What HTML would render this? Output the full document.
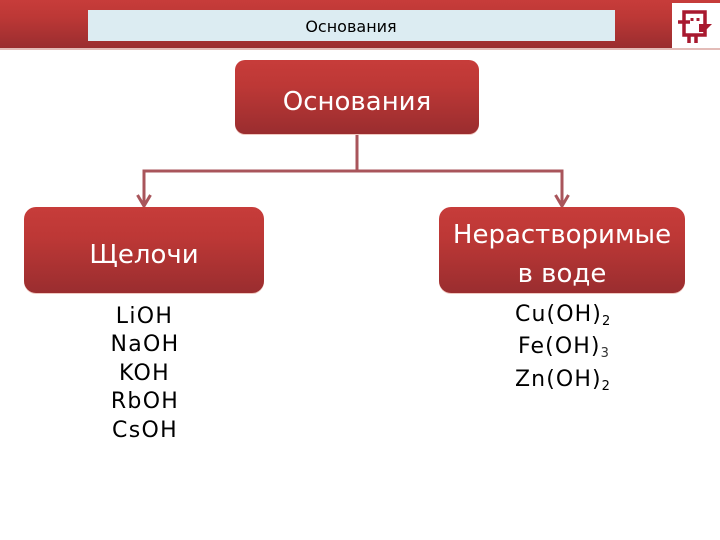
<!DOCTYPE html>
<html><head><meta charset="utf-8"><style>
html,body{margin:0;padding:0;background:#fff}
svg{display:block}
text{font-family:"DejaVu Sans","Liberation Sans",sans-serif}
</style></head><body>
<svg width="720" height="540" viewBox="0 0 720 540" xmlns="http://www.w3.org/2000/svg">
<defs>
<linearGradient id="g" x1="0" y1="0" x2="0" y2="1"><stop offset="0" stop-color="#c73c3a"/><stop offset=".35" stop-color="#bd3836"/><stop offset="1" stop-color="#9a2d2f"/></linearGradient>
</defs>
<rect width="720" height="540" fill="#fff"/>
<rect x="0" y="0" width="720" height="48" fill="url(#g)"/>
<rect x="0" y="48" width="720" height="2" fill="#e3bcb8"/>
<rect x="88" y="10" width="527" height="31" fill="#dcecf2"/>
<text x="351" y="32" font-size="16" text-anchor="middle" fill="#000">Основания</text>
<rect x="672" y="3" width="48" height="45" fill="#fff"/>
<g fill="none" stroke="#a8192f" stroke-width="3.500">
<rect x="684" y="12" width="21" height="23"/>
<path d="M678 22H690M689 35V43M696 35V43"/>
</g>
<path d="M699 24H712L704 32H699Z" fill="#a8192f"/>
<rect x="690.500" y="18" width="3" height="3" fill="#a8192f"/><rect x="696.500" y="18" width="3" height="3" fill="#a8192f"/>

<g fill="none" stroke="#a9555b" stroke-width="3">
<path d="M357 134V171M144 205V171H562V205"/>
<path d="M137.500 195L144 206L150.500 195M555.500 195L562 206L568.500 195"/>
</g>

<g fill="#f0c8c0"><rect x="235" y="62" width="244" height="73" rx="10"/><rect x="24" y="209" width="240" height="85" rx="12"/><rect x="439" y="209" width="246" height="85" rx="12"/></g>
<rect x="235" y="60" width="244" height="74" rx="10" fill="url(#g)"/>
<rect x="24" y="207" width="240" height="86" rx="12" fill="url(#g)"/>
<rect x="439" y="207" width="246" height="86" rx="12" fill="url(#g)"/>

<g fill="#fff" font-size="26" text-anchor="middle">
<text x="357" y="110">Основания</text>
<text x="144" y="263">Щелочи</text>
<text x="562" y="243">Нерастворимые</text>
<text x="562" y="282">в воде</text>
</g>

<g fill="#000" font-size="22" text-anchor="middle" letter-spacing="1.300">
<text x="144.500" y="323">LiOH</text>
<text x="145" y="351">NaOH</text>
<text x="144.500" y="380">KOH</text>
<text x="145" y="408">RbOH</text>
<text x="145" y="437">CsOH</text>
</g>
<g fill="#000" font-size="22" letter-spacing="1.100">
<text x="515" y="321">Cu(OH)<tspan font-size="13" dy="4">2</tspan></text>
<text x="518" y="353">Fe(OH)<tspan font-size="13" dy="4" fill="#333">3</tspan></text>
<text x="515" y="386">Zn(OH)<tspan font-size="13" dy="4">2</tspan></text>
</g>
</svg>
</body></html>
